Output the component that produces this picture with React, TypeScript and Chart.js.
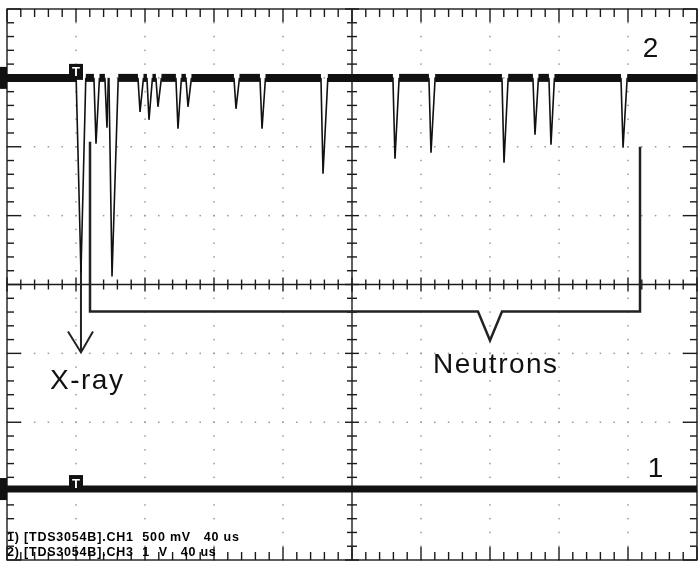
import React, { useEffect, useRef } from "react";
import { Chart, registerables } from "chart.js";

Chart.register(...registerables);

// Screen divisions (oscilloscope graticule): 10 x 8 divisions
const X_MIN = 0;
const X_MAX = 10;
const Y_MIN = -4;
const Y_MAX = 4;
const MINOR_STEP = 0.2;

// Channel baselines (divisions)
const trace2Base = 3.0;
const trace1Base = -2.97;

// Pulses on trace 2 (time in div, minimum level in div)
const pulseTime = [1.072, 1.29, 1.449, 1.522, 1.928, 2.058, 2.188, 2.478, 2.623, 3.319, 3.696, 4.58, 5.623, 6.145, 7.203, 7.652, 7.884, 8.928];
const pulseLevel = [0.174, 2.043, 2.275, 0.116, 2.507, 2.391, 2.58, 2.261, 2.58, 2.551, 2.261, 1.609, 1.826, 1.913, 1.768, 2.174, 2.029, 1.986];
const pulseFall = [0.07, 0.03, 0.03, 0.045, 0.03, 0.03, 0.03, 0.03, 0.03, 0.03, 0.03, 0.03, 0.03, 0.03, 0.03, 0.03, 0.03, 0.03];
const pulseRise = [0.07, 0.05, 0.02, 0.09, 0.05, 0.05, 0.05, 0.05, 0.05, 0.05, 0.05, 0.07, 0.06, 0.06, 0.06, 0.05, 0.05, 0.06];

// Annotation: bracket for neutrons
const bracketX = [1.203, 1.203, 6.826, 7.0, 7.174, 9.174, 9.174];
const bracketY = [2.072, -0.391, -0.391, -0.812, -0.391, -0.391, 2.0];

// Annotation: X-ray arrow
const arrowShaftX = [1.072, 1.072];
const arrowShaftY = [0.5, -0.986];
const arrowHeadX = [0.884, 1.072, 1.246];
const arrowHeadY = [-0.681, -0.986, -0.681];

// Text labels (x = left or centre in div, y = baseline in div)
const labelText = ["X-ray", "Neutrons", "2", "1"];
const labelX = [0.623, 6.174, 9.326, 9.4];
const labelY = [-1.522, -1.29, 3.304, -2.797];
const labelAlign: CanvasTextAlign[] = ["left", "left", "center", "center"];

const infoLines = ["1) [TDS3054B].CH1  500 mV   40 us", "2) [TDS3054B].CH3  1  V   40 us"];
const infoY = [-3.725, -3.942];

const triggerTime = 1.0;

function buildTrace2() {
  const pts: { x: number; y: number }[] = [{ x: X_MIN, y: trace2Base }];
  for (let i = 0; i < pulseTime.length; i++) {
    pts.push({ x: pulseTime[i] - pulseFall[i], y: trace2Base });
    pts.push({ x: pulseTime[i], y: pulseLevel[i] });
    pts.push({ x: pulseTime[i] + pulseRise[i], y: trace2Base });
  }
  pts.push({ x: X_MAX, y: trace2Base });
  return pts;
}

const zip = (xs: number[], ys: number[]) => xs.map((x, i) => ({ x, y: ys[i] }));

const scopePlugin = {
  id: "scopeGraticule",
  beforeDatasetsDraw(chart: any) {
    const { ctx, chartArea: a, scales } = chart;
    const xs = scales.x;
    const ys = scales.y;
    ctx.save();
    // dotted grid
    ctx.fillStyle = "#999";
    for (let i = X_MIN + 1; i < X_MAX; i++) {
      if (i === 5) continue;
      const px = xs.getPixelForValue(i);
      for (let v = Y_MIN; v <= Y_MAX + 1e-6; v += MINOR_STEP) {
        const py = ys.getPixelForValue(v);
        ctx.fillRect(px - 0.75, py - 0.75, 1.5, 1.5);
      }
    }
    for (let j = Y_MIN + 1; j < Y_MAX; j++) {
      if (j === 0) continue;
      const py = ys.getPixelForValue(j);
      for (let v = X_MIN; v <= X_MAX + 1e-6; v += MINOR_STEP) {
        const px = xs.getPixelForValue(v);
        ctx.fillRect(px - 0.75, py - 0.75, 1.5, 1.5);
      }
    }
    ctx.strokeStyle = "#1a1a1a";
    ctx.lineWidth = 1.4;
    const line = (x1: number, y1: number, x2: number, y2: number) => {
      ctx.beginPath();
      ctx.moveTo(x1, y1);
      ctx.lineTo(x2, y2);
      ctx.stroke();
    };
    const cx = xs.getPixelForValue(5);
    const cy = ys.getPixelForValue(0);
    line(cx, a.top, cx, a.bottom);
    line(a.left, cy, a.right, cy);
    ctx.strokeRect(a.left, a.top, a.width, a.height);
    // ticks on x
    for (let k = 0; k <= 50; k++) {
      const v = X_MIN + k * MINOR_STEP;
      const px = xs.getPixelForValue(v);
      const major = k % 5 === 0;
      const c = major ? 7 : 5;
      line(px, cy - c, px, cy + c);
      const b = major ? 13 : 8;
      line(px, a.top, px, a.top + b);
      line(px, a.bottom, px, a.bottom - b);
    }
    for (let k = 0; k <= 40; k++) {
      const v = Y_MIN + k * MINOR_STEP;
      const py = ys.getPixelForValue(v);
      const major = k % 5 === 0;
      const c = major ? 7 : 5;
      line(cx - c, py, cx + c, py);
      const b = major ? 14 : 7;
      line(a.left, py, a.left + b, py);
      line(a.right, py, a.right - b, py);
    }
    ctx.restore();
  },
  afterDatasetsDraw(chart: any) {
    const { ctx, chartArea: a, scales } = chart;
    const xs = scales.x;
    const ys = scales.y;
    ctx.save();
    // ground-level markers at left edge
    ctx.fillStyle = "#111";
    for (const base of [trace2Base, trace1Base]) {
      const py = ys.getPixelForValue(base);
      ctx.fillRect(0, py - 11, a.left, 22);
    }
    // trigger markers
    for (const base of [trace2Base, trace1Base]) {
      const px = xs.getPixelForValue(triggerTime);
      const py = ys.getPixelForValue(base) - 6;
      ctx.fillStyle = "#111";
      ctx.fillRect(px - 7, py - 8, 14, 16);
      ctx.fillStyle = "#fff";
      ctx.font = "bold 13px 'Liberation Sans', Arial, sans-serif";
      ctx.textAlign = "center";
      ctx.textBaseline = "middle";
      ctx.fillText("T", px, py + 1);
    }
    // labels
    ctx.fillStyle = "#111";
    ctx.textBaseline = "alphabetic";
    ctx.font = "28px 'Liberation Sans', Arial, sans-serif";
    for (let i = 0; i < labelText.length; i++) {
      ctx.textAlign = labelAlign[i];
      (ctx as any).letterSpacing = labelText[i].length > 1 ? "1.5px" : "0px";
      ctx.fillText(labelText[i], xs.getPixelForValue(labelX[i]), ys.getPixelForValue(labelY[i]));
    }
    (ctx as any).letterSpacing = "0.8px";
    ctx.fillStyle = "#000";
    ctx.font = "bold 12.5px 'Liberation Sans', Arial, sans-serif";
    ctx.textAlign = "left";
    for (let i = 0; i < infoLines.length; i++) {
      ctx.fillText(infoLines[i], a.left, ys.getPixelForValue(infoY[i]));
    }
    ctx.restore();
  },
};

export default function App() {
  const ref = useRef<HTMLCanvasElement | null>(null);
  useEffect(() => {
    if (!ref.current) return;
    const isBase = (v: number) => Math.abs(v - trace2Base) < 1e-9;
    const chart = new Chart(ref.current, {
      type: "scatter",
      data: {
        datasets: [
          {
            label: "CH3",
            data: buildTrace2(),
            showLine: true,
            borderColor: "#111",
            borderWidth: 1.6,
            pointRadius: 0,
            segment: {
              borderWidth: (c: any) => (isBase(c.p0.parsed.y) && isBase(c.p1.parsed.y) ? 8 : 1.6),
            },
          } as any,
          {
            label: "CH1",
            data: [
              { x: X_MIN, y: trace1Base },
              { x: X_MAX, y: trace1Base },
            ],
            showLine: true,
            borderColor: "#111",
            borderWidth: 7,
            pointRadius: 0,
          },
          {
            label: "bracket",
            data: zip(bracketX, bracketY),
            showLine: true,
            borderColor: "#222",
            borderWidth: 2.5,
            pointRadius: 0,
            borderJoinStyle: "miter",
          },
          {
            label: "arrow",
            data: zip(arrowShaftX, arrowShaftY),
            showLine: true,
            borderColor: "#222",
            borderWidth: 2,
            pointRadius: 0,
          },
          {
            label: "arrowhead",
            data: zip(arrowHeadX, arrowHeadY),
            showLine: true,
            borderColor: "#222",
            borderWidth: 2,
            pointRadius: 0,
          },
        ],
      },
      options: {
        animation: false,
        responsive: false,
        maintainAspectRatio: false,
        layout: { padding: { left: 7, top: 9, right: 3, bottom: 8 } },
        scales: {
          x: { type: "linear", min: X_MIN, max: X_MAX, display: false },
          y: { type: "linear", min: Y_MIN, max: Y_MAX, display: false },
        },
        plugins: { legend: { display: false }, tooltip: { enabled: false } },
      },
      plugins: [scopePlugin],
    });
    return () => chart.destroy();
  }, []);
  return (
    <div style={{ position: "fixed", left: 0, top: 0, width: 700, height: 568, background: "#fff" }}>
      <canvas ref={ref} width={700} height={568} style={{ display: "block" }} />
    </div>
  );
}
